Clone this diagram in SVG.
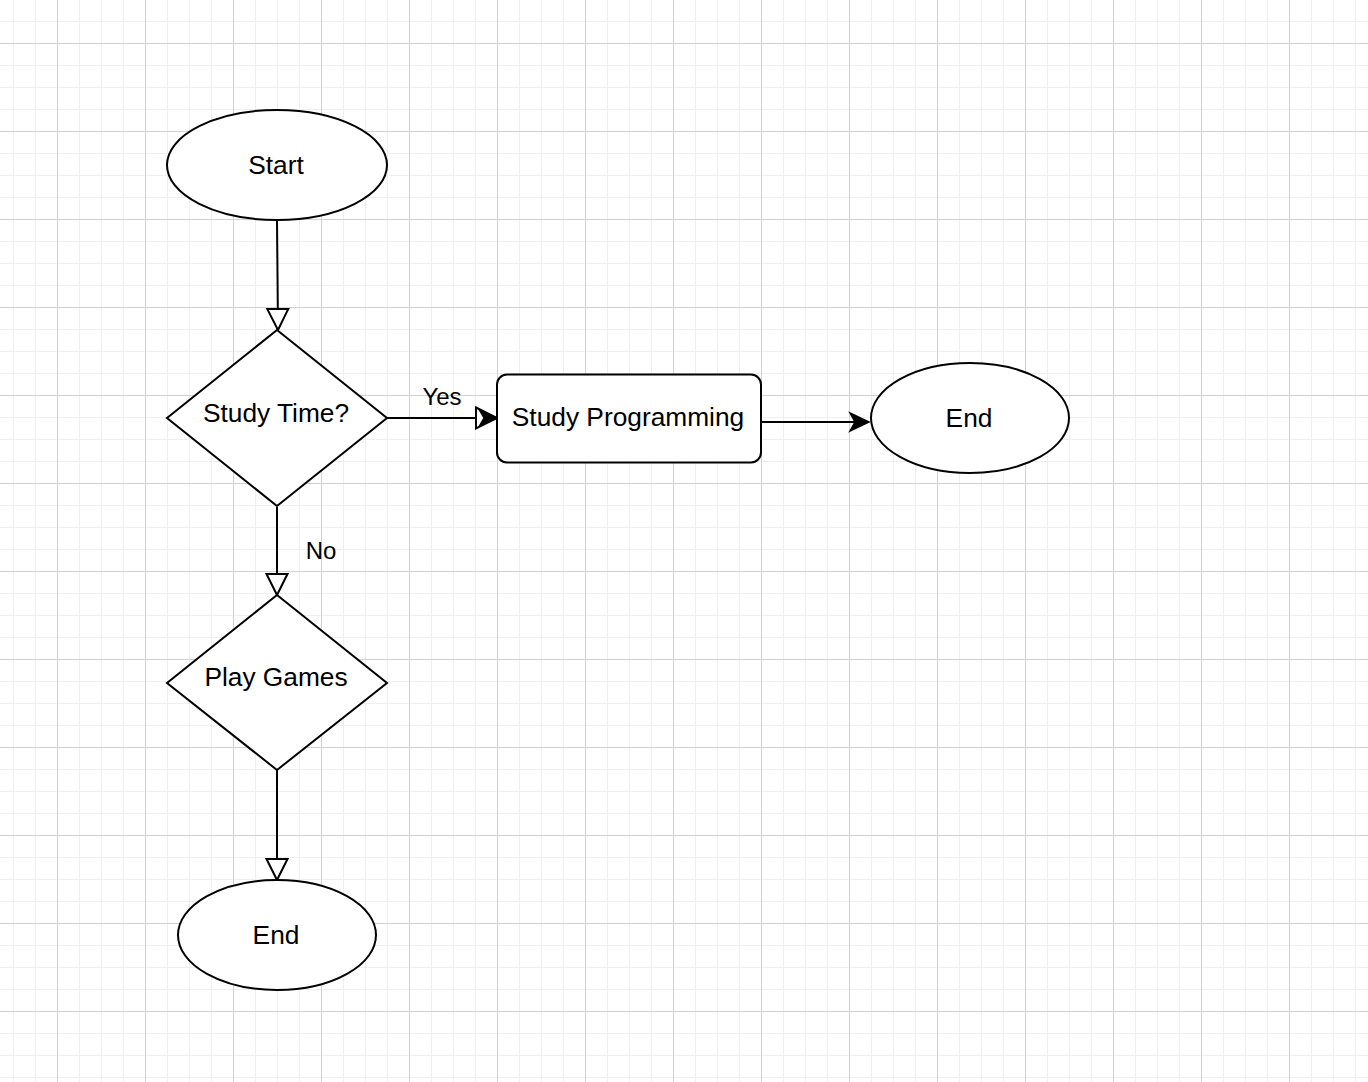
<svg xmlns="http://www.w3.org/2000/svg" width="1368" height="1082" viewBox="0 0 1368 1082">
  <defs>
    <pattern id="grid" patternUnits="userSpaceOnUse" x="57" y="43" width="88" height="88">
      <rect x="0" y="0" width="88" height="88" fill="#ffffff"/>
      <rect x="22" y="0" width="1" height="88" fill="#efefef"/>
      <rect x="44" y="0" width="1" height="88" fill="#efefef"/>
      <rect x="66" y="0" width="1" height="88" fill="#efefef"/>
      <rect x="0" y="22" width="88" height="1" fill="#efefef"/>
      <rect x="0" y="44" width="88" height="1" fill="#efefef"/>
      <rect x="0" y="66" width="88" height="1" fill="#efefef"/>
      <rect x="0" y="0" width="1" height="88" fill="#d2d2d2"/>
      <rect x="0" y="0" width="88" height="1" fill="#d2d2d2"/>
    </pattern>
    <marker id="open" markerUnits="userSpaceOnUse" viewBox="-3 -14 28 28" markerWidth="28" markerHeight="28" refX="21" refY="0" orient="auto">
      <path d="M0,-10.5 L21,0 L0,10.5 Z" fill="#ffffff" stroke="#000000" stroke-width="2"/>
    </marker>
    <marker id="classic" markerUnits="userSpaceOnUse" viewBox="-2 -12 24 24" markerWidth="24" markerHeight="24" refX="19" refY="0" orient="auto">
      <path d="M0,-9 L19,0 L0,9 L5,0 Z" fill="#000000" stroke="#000000" stroke-width="1.5" stroke-linejoin="miter"/>
    </marker>
    <style>
      .shape { fill: #ffffff; stroke: #000000; stroke-width: 2; }
      .edge { fill: none; stroke: #000000; stroke-width: 2; }
      .lbl { font-family: "Liberation Sans", Arial, Helvetica, sans-serif; font-size: 26.3px; fill: #000000; text-anchor: middle; }
      .elbl { font-family: "Liberation Sans", Arial, Helvetica, sans-serif; font-size: 24px; fill: #000000; text-anchor: middle; }
    </style>
  </defs>

  <rect x="0" y="0" width="1368" height="1082" fill="url(#grid)"/>

  <g id="connectors">
    <path class="edge" d="M277,220 L278,330" marker-end="url(#open)"/>
    <path class="edge" d="M387,418 L497,418" marker-end="url(#open)"/>
    <path d="M480,411 L497,418 L480,425 L484,418 Z" fill="#000000" stroke="#000000" stroke-width="1.5"/>
    <text class="elbl" x="442" y="405">Yes</text>
    <path class="edge" d="M761,422 L869,422" marker-end="url(#classic)"/>
    <path class="edge" d="M277,507 L277,595" marker-end="url(#open)"/>
    <text class="elbl" x="321" y="559">No</text>
    <path class="edge" d="M277,770 L277,880" marker-end="url(#open)"/>
  </g>

  <g id="start">
    <ellipse class="shape" cx="277" cy="165" rx="110" ry="55"/>
    <text class="lbl" x="276" y="174">Start</text>
  </g>

  <g id="study-time">
    <polygon class="shape" points="277,330 387,418 277,506 167,418"/>
    <text class="lbl" x="276" y="422">Study Time?</text>
  </g>

  <g id="study-programming">
    <rect class="shape" x="497" y="374.5" width="264" height="88" rx="10" ry="10"/>
    <text class="lbl" x="628" y="426">Study Programming</text>
  </g>

  <g id="end-right">
    <ellipse class="shape" cx="970" cy="418" rx="99" ry="55"/>
    <text class="lbl" x="969" y="427">End</text>
  </g>

  <g id="play-games">
    <polygon class="shape" points="277,595 387,683 277,770 167,683"/>
    <text class="lbl" x="276" y="686">Play Games</text>
  </g>

  <g id="end-bottom">
    <ellipse class="shape" cx="277" cy="935" rx="99" ry="55"/>
    <text class="lbl" x="276" y="944">End</text>
  </g>
</svg>
